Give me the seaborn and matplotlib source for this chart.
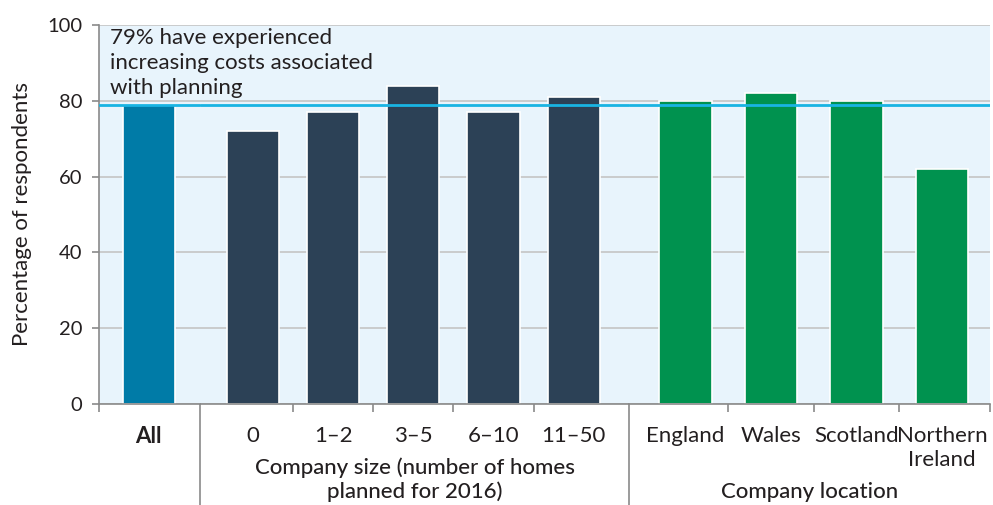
import pandas as pd
import matplotlib.pyplot as plt
from matplotlib.lines import Line2D
import seaborn as sns

# ==========================================================
#  DATA
# ==========================================================
all_labels = ["All"]
all_values = [79]

size_labels = ["0", "1–2", "3–5", "6–10", "11–50"]
size_values = [72, 77, 84, 77, 81]

loc_labels = ["England", "Wales", "Scotland", "Northern\nIreland"]
loc_values = [80, 82, 80, 62]

avg_value = 79
avg_text = "79% have experienced\nincreasing costs associated\nwith planning"
y_ticks = [0, 20, 40, 60, 80, 100]

# ==========================================================
#  STYLE
# ==========================================================
sns.set_theme(style="white")
plt.rcParams["font.family"] = ["Lato", "DejaVu Sans"]

BG = "#E8F4FC"
GRID = "#C4C4C4"
AXIS = "#8A8A8A"
TXT = "#231F20"
C_ALL = "#007BA7"
C_SIZE = "#2C4156"
C_LOC = "#00924F"
C_LINE = "#19B4E3"

fig = plt.figure(figsize=(9.93, 5.05), dpi=100)
gs = fig.add_gridspec(1, 3, width_ratios=[101, 429, 361],
                      left=0.0997, right=0.997, bottom=0.2, top=0.9505,
                      wspace=0)

panels = [
    (all_labels, all_values, C_ALL, (-0.62, 0.64), 0.65),
    (size_labels, size_values, C_SIZE, (-0.66, 4.69), 0.65),
    (loc_labels, loc_values, C_LOC, (-0.66, 3.56), 0.61),
]

axes = []
for i, (labels, values, color, xlim, w) in enumerate(panels):
    ax = fig.add_subplot(gs[0, i])
    df = pd.DataFrame({"cat": labels, "val": values})
    sns.barplot(data=df, x="cat", y="val", color=color, width=w,
                saturation=1, edgecolor="white", linewidth=1.2, ax=ax)
    ax.set_facecolor(BG)
    ax.set_ylim(0, 100)
    ax.set_xlim(*xlim)
    ax.set_yticks(y_ticks)
    ax.yaxis.grid(True, color=GRID, linewidth=1.2)
    ax.set_axisbelow(True)
    ax.axhline(avg_value, color=C_LINE, linewidth=2, zorder=5)
    ax.set_xlabel("")
    ax.set_ylabel("")

    for s in ["top", "right", "left"]:
        ax.spines[s].set_visible(False)
    ax.spines["bottom"].set_color(AXIS)
    ax.spines["bottom"].set_linewidth(1.2)

    # category labels, no tick marks
    ax.tick_params(axis="x", which="major", length=0, pad=16,
                   labelsize=16, labelcolor=TXT)
    for t in ax.get_xticklabels():
        t.set_linespacing(1.25)
    # boundary ticks between categories
    n = len(labels)
    bounds = [k + 0.5 for k in range(n - 1)]
    if i == 0:
        bounds = [xlim[0]]
    if i == 2:
        bounds = bounds + [xlim[1]]
    ax.set_xticks(bounds, minor=True)
    ax.tick_params(axis="x", which="minor", bottom=True, length=6,
                   width=1.2, color=AXIS)

    if i == 0:
        ax.spines["left"].set_visible(True)
        ax.spines["left"].set_color(AXIS)
        ax.spines["left"].set_linewidth(1.2)
        ax.tick_params(axis="y", left=True, length=5, width=1.2,
                       color=AXIS, labelsize=14.5, labelcolor=TXT, pad=7)
        ax.set_ylabel("Percentage of respondents", fontsize=16,
                      color=TXT, labelpad=11)
        for t in ax.get_xticklabels():
            t.set_fontweight("bold")
    else:
        ax.tick_params(axis="y", left=False, labelleft=False)
    axes.append(ax)

# annotation for the overall line, kept above the neighbouring panels
axes[0].set_zorder(10)
axes[0].text(0.11, 99.3, avg_text, transform=axes[0].get_yaxis_transform(),
             ha="left", va="top", fontsize=16, color=TXT,
             linespacing=1.32, zorder=6, clip_on=False)

# separators between groups
for ax in axes[1:]:
    x0 = ax.get_position().x0
    fig.add_artist(Line2D([x0, x0], [0, 0.2], color=AXIS, linewidth=1.2))

# group labels
p1 = axes[1].get_position()
p2 = axes[2].get_position()
fig.text((p1.x0 + p1.x1) / 2, 0.006,
         "Company size (number of homes\nplanned for 2016)",
         ha="center", va="bottom", fontsize=16, color=TXT,
         fontweight="medium", linespacing=1.22)
fig.text((p2.x0 + p2.x1) / 2, 0.006, "Company location",
         ha="center", va="bottom", fontsize=16, color=TXT,
         fontweight="medium")

plt.savefig("out.png", dpi=100)
plt.close()
